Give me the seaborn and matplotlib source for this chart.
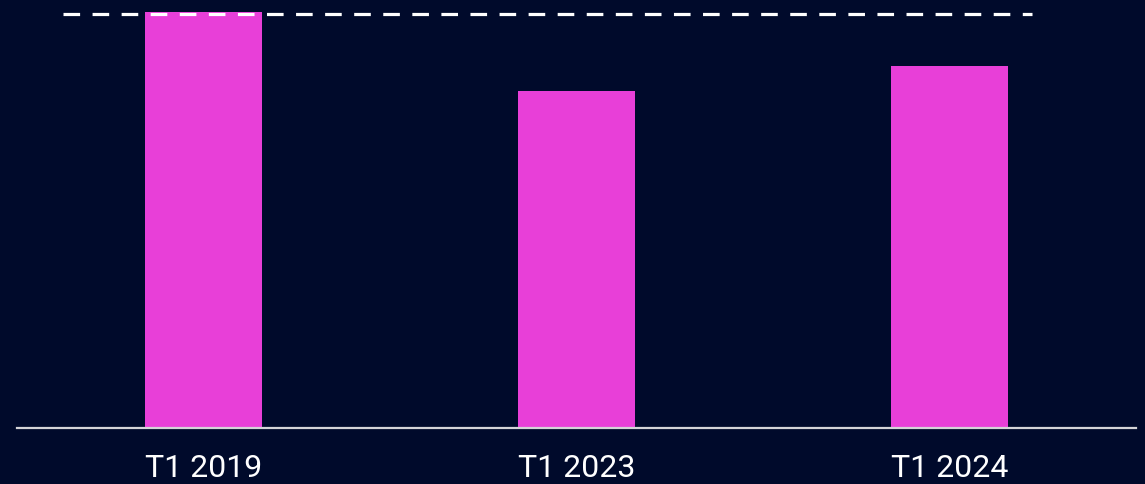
import matplotlib.pyplot as plt
import numpy as np
import pandas as pd
import seaborn as sns

# data (index, T1 2019 = 100)
periods = ['T1 2019', 'T1 2023', 'T1 2024']
values = [100.0, 81.1, 87.0]
reference_level = 99.6

bg = '#000a2b'
bar_color = '#e83fd8'

df = pd.DataFrame({'period': periods, 'value': values})

sns.set_theme(style='white')
plt.rcParams['font.family'] = ['Roboto', 'DejaVu Sans']

fig = plt.figure(figsize=(11.45, 4.84), dpi=100, facecolor=bg)
ax = fig.add_axes([17 / 1145, 56 / 484, 1119 / 1145, 428 / 484])
ax.set_facecolor(bg)

sns.barplot(data=df, x='period', y='value', color=bar_color, saturation=1,
            width=0.311, linewidth=0, edgecolor='none', ax=ax)

ax.set_xlim(-0.5, 2.5)
ax.set_ylim(0, 102.9)

# dashed reference line
ax.hlines(reference_level, -0.377, 2.221, colors='white', linewidth=2.3,
          linestyles=(0, (5.2, 3.9)), zorder=3)

for s in ['top', 'right', 'left']:
    ax.spines[s].set_visible(False)
ax.spines['bottom'].set_color('#d4d4d8')
ax.spines['bottom'].set_linewidth(1.6)

ax.set_xlabel('')
ax.set_ylabel('')
ax.set_yticks([])
ax.tick_params(axis='x', length=0, pad=19, labelsize=23, labelcolor='white')

fig.savefig('out.png', dpi=100, facecolor=bg)
